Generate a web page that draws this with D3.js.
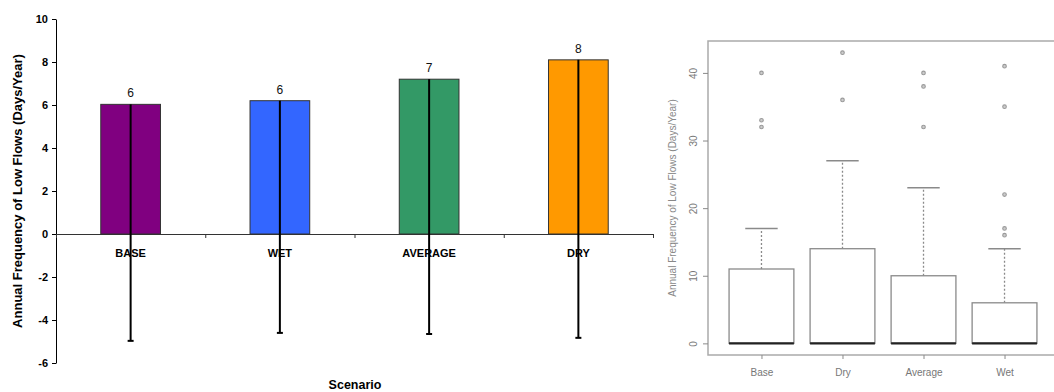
<!DOCTYPE html>
<html>
<head>
<meta charset="utf-8">
<script src="https://cdn.jsdelivr.net/npm/d3@7"></script>
<style>
  body { margin: 0; background: #fff; }
  svg { display: block; font-family: "Liberation Sans", Arial, sans-serif; }
</style>
</head>
<body>
<div id="chart"></div>
<script>
// Left panel: mean low-flow frequency by scenario, with minus error bars
var scenarios = ["BASE", "WET", "AVERAGE", "DRY"];
var means = [6.03, 6.2, 7.2, 8.1];
var errMinus = [11.0, 10.8, 11.85, 12.93];
var barColors = ["#800080", "#3366ff", "#339966", "#ff9900"];
var yTicksLeft = [-6, -4, -2, 0, 2, 4, 6, 8, 10];

// Right panel: boxplots
var boxNames = ["Base", "Dry", "Average", "Wet"];
var boxQ1 = [0, 0, 0, 0];
var boxMedian = [0, 0, 0, 0];
var boxQ3 = [11, 14, 10, 6];
var whiskerLow = [0, 0, 0, 0];
var whiskerHigh = [17, 27, 23, 14];
var outliers = [[32, 33, 40], [36, 43], [32, 38, 40], [16, 17, 22, 35, 41]];
var yTicksRight = [0, 10, 20, 30, 40];

var w = 1054;
var h = 392;

var svg = d3.select('#chart').append('svg')
  .attr('width', w)
  .attr('height', h);

// ---------- left bar chart ----------
var x = d3.scaleBand()
  .domain(scenarios)
  .range([56, 653])
  .paddingInner(0.6)
  .paddingOuter(0.3);

var y = d3.scaleLinear().domain([-6, 10]).range([363, 19]);

// plain hyphen for negatives, like the original
var yAxis = svg.append('g')
  .attr('transform', 'translate(56,0)')
  .call(d3.axisLeft(y).tickValues(yTicksLeft).tickFormat(function(d) { return String(d); })
    .tickSize(4).tickSizeOuter(0).tickPadding(4));
yAxis.selectAll('text')
  .attr('font-size', 11).attr('font-weight', 'bold').attr('fill', '#000')
  .attr('font-family', '"Liberation Sans", Arial, sans-serif');
yAxis.selectAll('line, path').attr('stroke', '#000');

// category-boundary ticks on the zero line
var xEdge = d3.scaleLinear().domain([0, scenarios.length]).range([56, 653]);
var xAxis = svg.append('g')
  .attr('transform', 'translate(0,' + y(0) + ')')
  .call(d3.axisBottom(xEdge).tickValues(d3.range(scenarios.length + 1)).tickFormat('').tickSize(4).tickSizeOuter(0));
xAxis.selectAll('line, path').attr('stroke', '#333');

svg.append('g').selectAll('rect')
  .data(scenarios)
  .enter().append('rect')
  .attr('x', function(d) { return x(d); })
  .attr('y', function(d, i) { return y(means[i]); })
  .attr('width', x.bandwidth())
  .attr('height', function(d, i) { return y(0) - y(means[i]); })
  .attr('fill', function(d, i) { return barColors[i]; })
  .attr('stroke', '#333')
  .attr('stroke-width', 1);

// category labels
svg.append('g').selectAll('text')
  .data(scenarios)
  .enter().append('text')
  .attr('x', function(d) { return x(d) + x.bandwidth() / 2; })
  .attr('y', 257)
  .attr('text-anchor', 'middle')
  .attr('font-size', 11)
  .attr('font-weight', 'bold')
  .text(function(d) { return d; });

// error bars (minus only)
var eb = svg.append('g').selectAll('g')
  .data(scenarios)
  .enter().append('g');
eb.append('line')
  .attr('x1', function(d) { return x(d) + x.bandwidth() / 2; })
  .attr('x2', function(d) { return x(d) + x.bandwidth() / 2; })
  .attr('y1', function(d, i) { return y(means[i]); })
  .attr('y2', function(d, i) { return y(means[i] - errMinus[i]); })
  .attr('stroke', '#000')
  .attr('stroke-width', 2);
eb.append('line')
  .attr('x1', function(d) { return x(d) + x.bandwidth() / 2 - 3; })
  .attr('x2', function(d) { return x(d) + x.bandwidth() / 2 + 3; })
  .attr('y1', function(d, i) { return y(means[i] - errMinus[i]); })
  .attr('y2', function(d, i) { return y(means[i] - errMinus[i]); })
  .attr('stroke', '#000')
  .attr('stroke-width', 2);

// value labels
svg.append('g').selectAll('text')
  .data(scenarios)
  .enter().append('text')
  .attr('x', function(d) { return x(d) + x.bandwidth() / 2; })
  .attr('y', function(d, i) { return y(means[i]) - 7; })
  .attr('text-anchor', 'middle')
  .attr('font-size', 12)
  .attr('fill', '#111')
  .text(function(d, i) { return d3.format('.0f')(means[i]); });

svg.append('text')
  .attr('transform', 'translate(22,191) rotate(-90)')
  .attr('text-anchor', 'middle')
  .attr('font-size', 13)
  .attr('font-weight', 'bold')
  .text('Annual Frequency of Low Flows (Days/Year)');

svg.append('text')
  .attr('x', 355)
  .attr('y', 389)
  .attr('text-anchor', 'middle')
  .attr('font-size', 12.5)
  .attr('font-weight', 'bold')
  .text('Scenario');

// ---------- right boxplot ----------
var grey = '#8a8a8a';
var bx = d3.scaleLinear().domain([0.34, 4.66]).range([708, 1058]);
var by = d3.scaleLinear().domain([-1.72, 44.72]).range([355, 41]);
var halfBox = 0.4;
var halfCap = 0.2;

svg.append('rect')
  .attr('x', bx.range()[0])
  .attr('y', by.range()[1])
  .attr('width', bx.range()[1] - bx.range()[0])
  .attr('height', by.range()[0] - by.range()[1])
  .attr('fill', 'none')
  .attr('stroke', '#aaa')
  .attr('stroke-width', 1.5);

var ry = svg.append('g')
  .attr('transform', 'translate(708,0)')
  .call(d3.axisLeft(by).tickValues(yTicksRight).tickSize(5).tickSizeOuter(0).tickPadding(8));
ry.select('.domain').remove();
ry.selectAll('line').attr('stroke', grey);
ry.selectAll('text')
  .attr('font-size', 10).attr('fill', '#777')
  .attr('font-family', '"Liberation Sans", Arial, sans-serif')
  .attr('text-anchor', 'middle')
  .attr('dy', null)
  .attr('x', null)
  .attr('transform', 'translate(-15,0) rotate(-90)')
  .attr('dominant-baseline', 'central');

var rx = svg.append('g')
  .attr('transform', 'translate(0,355)')
  .call(d3.axisBottom(bx).tickValues([1, 2, 3, 4]).tickFormat(function(d) { return boxNames[d - 1]; }).tickSize(4).tickSizeOuter(0).tickPadding(10));
rx.select('.domain').remove();
rx.selectAll('line').attr('stroke', grey);
rx.selectAll('text')
  .attr('font-size', 10).attr('fill', '#777')
  .attr('font-family', '"Liberation Sans", Arial, sans-serif');

svg.append('text')
  .attr('transform', 'translate(676,198) rotate(-90)')
  .attr('text-anchor', 'middle')
  .attr('font-size', 10)
  .attr('fill', '#888')
  .text('Annual Frequency of Low Flows (Days/Year)');

var boxes = svg.append('g').selectAll('g')
  .data(boxNames)
  .enter().append('g');

// whiskers (dashed)
boxes.append('line')
  .attr('x1', function(d, i) { return bx(i + 1); })
  .attr('x2', function(d, i) { return bx(i + 1); })
  .attr('y1', function(d, i) { return by(boxQ3[i]); })
  .attr('y2', function(d, i) { return by(whiskerHigh[i]); })
  .attr('stroke', grey)
  .attr('stroke-width', 1.3)
  .attr('stroke-dasharray', '2,2');
boxes.append('line')
  .attr('x1', function(d, i) { return bx(i + 1 - halfCap); })
  .attr('x2', function(d, i) { return bx(i + 1 + halfCap); })
  .attr('y1', function(d, i) { return by(whiskerHigh[i]); })
  .attr('y2', function(d, i) { return by(whiskerHigh[i]); })
  .attr('stroke', grey)
  .attr('stroke-width', 1.5);
boxes.append('line')
  .attr('x1', function(d, i) { return bx(i + 1 - halfCap); })
  .attr('x2', function(d, i) { return bx(i + 1 + halfCap); })
  .attr('y1', function(d, i) { return by(whiskerLow[i]); })
  .attr('y2', function(d, i) { return by(whiskerLow[i]); })
  .attr('stroke', grey)
  .attr('stroke-width', 1.5);

boxes.append('rect')
  .attr('x', function(d, i) { return bx(i + 1 - halfBox); })
  .attr('y', function(d, i) { return by(boxQ3[i]); })
  .attr('width', function(d, i) { return bx(i + 1 + halfBox) - bx(i + 1 - halfBox); })
  .attr('height', function(d, i) { return by(boxQ1[i]) - by(boxQ3[i]); })
  .attr('fill', '#fff')
  .attr('stroke', grey)
  .attr('stroke-width', 1.3);

boxes.append('line')
  .attr('x1', function(d, i) { return bx(i + 1 - halfBox); })
  .attr('x2', function(d, i) { return bx(i + 1 + halfBox); })
  .attr('y1', function(d, i) { return by(boxMedian[i]); })
  .attr('y2', function(d, i) { return by(boxMedian[i]); })
  .attr('stroke', '#222')
  .attr('stroke-width', 2.2);

boxes.selectAll('circle')
  .data(function(d, i) { return outliers[i].map(function(v) { return { pos: i + 1, v: v }; }); })
  .enter().append('circle')
  .attr('cx', function(d) { return bx(d.pos); })
  .attr('cy', function(d) { return by(d.v); })
  .attr('r', 1.8)
  .attr('fill', '#ccc')
  .attr('stroke', '#999')
  .attr('stroke-width', 1.1);
</script>
</body>
</html>
